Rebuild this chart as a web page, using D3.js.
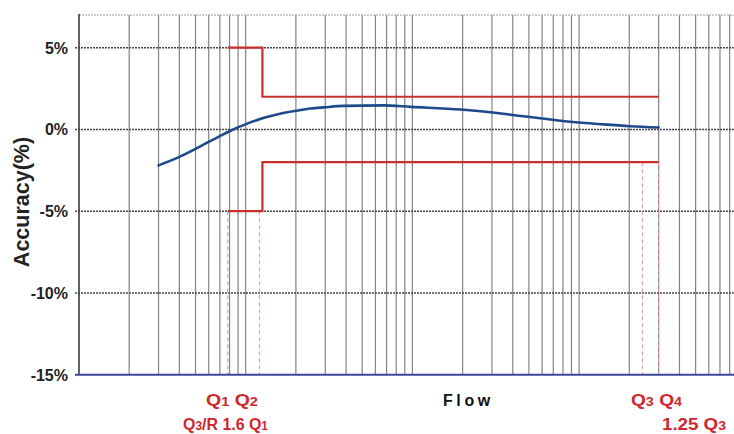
<!DOCTYPE html>
<html><head><meta charset="utf-8">
<script src="https://cdn.jsdelivr.net/npm/d3@7"></script>
<style>body{margin:0;background:#fff}svg{display:block}</style>
</head><body>
<script>
// ---- data ----
const flow     = [3, 4, 5, 6, 7, 8.1, 10.3, 12.9, 16.3, 20, 24.6, 29.4, 38.8, 67, 98, 195, 340, 400, 604, 887, 1400, 2030, 3000];
const accuracy = [-2.2, -1.68, -1.19, -0.76, -0.41, -0.08, 0.37, 0.71, 0.98, 1.14, 1.28, 1.35, 1.44, 1.47, 1.38, 1.22, 0.98, 0.88, 0.67, 0.47, 0.31, 0.2, 0.12];
const limitFlow  = [7.8, 12.6, 12.6, 3000];
const upperLimit = [5, 5, 2, 2];
const lowerLimit = [-5, -5, -2, -2];
const qFlows   = [7.8, 12.1, 2400, 3000];      // Q1, Q2, Q3, Q4 marker lines
const qFrom    = [-5, -5, -2, -2];             // dashed marker start level
const yTicks      = [5, 0, -5, -10, -15];
const yTickLabels = ["5%", "0%", "-5%", "-10%", "-15%"];
const yGrid       = [7, 5, 0, -5, -10];

const W = 734, H = 434;
const svg = d3.select("body").append("svg").attr("width", W).attr("height", H);
const x = d3.scaleLog().domain([1, 10000]).range([79, 79 + 4 * 166.7]);
const y = d3.scaleLinear().domain([-15, 7]).range([374.7, 15]);
const FONT = "'Liberation Sans', Arial, Helvetica, sans-serif";

// vertical grid
svg.append("g").selectAll("line").data(x.ticks().filter(d => d > 1 && x(d) < W))
  .join("line")
  .attr("x1", d => x(d)).attr("x2", d => x(d))
  .attr("y1", y(7)).attr("y2", y(-15))
  .attr("stroke", "#828282").attr("stroke-width", 1.2);

// horizontal grid (dotted)
svg.append("g").selectAll("line").data(yGrid)
  .join("line")
  .attr("x1", d => d === 7 ? x(1) : x(1) - 4).attr("x2", W)
  .attr("y1", d => y(d)).attr("y2", d => y(d))
  .attr("stroke", d => d === 7 ? "#9a9a9a" : "#44444f")
  .attr("stroke-width", d => d === 7 ? 1 : 1.4)
  .attr("stroke-dasharray", "2,1");

// Q marker dashed lines
svg.append("g").selectAll("line").data(qFlows)
  .join("line")
  .attr("x1", d => x(d)).attr("x2", d => x(d))
  .attr("y1", (d, i) => y(qFrom[i])).attr("y2", y(-15))
  .attr("stroke", "#e2a4a4").attr("stroke-width", 1.2)
  .attr("stroke-dasharray", "4,3");

// y axis line
svg.append("line").attr("x1", x(1)).attr("x2", x(1)).attr("y1", 14).attr("y2", y(-15))
  .attr("stroke", "#3a3a3a").attr("stroke-width", 1.6);

// x axis line (blue)
svg.append("line").attr("x1", x(1) - 4).attr("x2", W).attr("y1", y(-15)).attr("y2", y(-15))
  .attr("stroke", "#3c4896").attr("stroke-width", 2);

// limit lines
const lim = d3.line().x(d => x(d[0])).y(d => y(d[1])).curve(d3.curveLinear);
[upperLimit, lowerLimit].forEach(arr => {
  svg.append("path").datum(limitFlow.map((f, i) => [f, arr[i]]))
    .attr("d", lim).attr("fill", "none")
    .attr("stroke", "#c9302c").attr("stroke-width", 2.2);
});

// accuracy curve
svg.append("path").datum(flow.map((f, i) => [f, accuracy[i]]))
  .attr("d", d3.line().x(d => x(d[0])).y(d => y(d[1])).curve(d3.curveMonotoneX))
  .attr("fill", "none").attr("stroke", "#1d4a8c").attr("stroke-width", 2.6)
  .attr("stroke-linecap", "round");

// y tick labels
svg.append("g").selectAll("text").data(yTicks)
  .join("text")
  .attr("x", 68).attr("y", d => y(d) + 6)
  .attr("text-anchor", "end")
  .attr("font-family", FONT).attr("font-weight", "bold").attr("font-size", 16)
  .attr("fill", "#222")
  .text((d, i) => yTickLabels[i]);

// y axis title
svg.append("text")
  .attr("transform", "translate(29,202) rotate(-90)")
  .attr("text-anchor", "middle")
  .attr("font-family", FONT).attr("font-weight", "bold").attr("font-size", 21.5)
  .attr("fill", "#222")
  .text("Accuracy(%)");

// x axis title
svg.append("text")
  .attr("x", 443).attr("y", 406)
  .attr("font-family", FONT).attr("font-weight", "bold").attr("font-size", 16)
  .attr("letter-spacing", 3.6)
  .attr("fill", "#111")
  .text("Flow");

// red Q labels
const qLabels = [
  {x: 206, y: 406, w: 52, parts: [["Q", 0], ["1", 1], [" Q", 0], ["2", 1]]},
  {x: 183, y: 430, w: 85, parts: [["Q", 0], ["3", 1], ["/R 1.6 Q", 0], ["1", 1]]},
  {x: 631, y: 406, w: 51, parts: [["Q", 0], ["3", 1], [" Q", 0], ["4", 1]]},
  {x: 662, y: 430, w: 64, parts: [["1.25 Q", 0], ["3", 1]]}
];
qLabels.forEach(l => {
  const t = svg.append("text")
    .attr("x", l.x).attr("y", l.y)
    .attr("font-family", FONT).attr("font-weight", "bold").attr("font-size", 16)
    .attr("fill", "#d0262d")
    .attr("textLength", l.w).attr("lengthAdjust", "spacingAndGlyphs");
  l.parts.forEach(p => {
    t.append("tspan").attr("font-size", p[1] ? 12 : 16).text(p[0]);
  });
});
</script>
</body></html>
